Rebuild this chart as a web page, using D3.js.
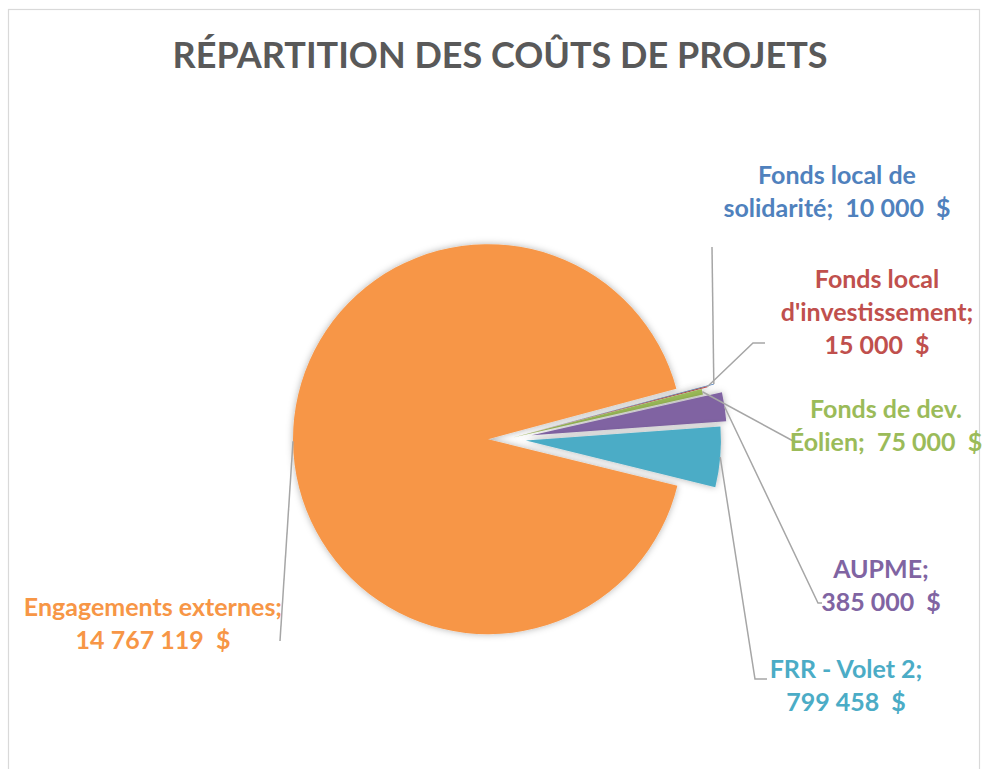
<!DOCTYPE html>
<html>
<head>
<meta charset="utf-8">
<script src="https://cdn.jsdelivr.net/npm/d3@7"></script>
<style>
  html, body { margin: 0; padding: 0; background: #fff; }
  text { font-family: Lato, "Open Sans", sans-serif; font-weight: 700; white-space: pre; }
</style>
</head>
<body>
<div id="chart"></div>
<script>
// data, in Excel order (clockwise from the first slice angle)
const categories = ["Fonds local de solidarité", "Fonds local d'investissement", "Fonds de dev. Éolien", "AUPME", "FRR - Volet 2", "Engagements externes"];
const values = [10000, 15000, 75000, 385000, 799458, 14767119];
const colors = ["#4F81BD", "#C0504D", "#9BBB59", "#8064A2", "#4BACC6", "#F79646"];

// layout
const width = 982, height = 769;
const cx = 507, cy = 439, radius = 195;
const firstSliceAngle = 75; // degrees
const explode = [19, 12, 6, 25, 19, 19];
// tokens per line when wrapping each label
const lineSplits = [[3, 2], [2, 1, 1], [3, 2], [1, 1], [4, 1], [2, 1]];
const labelCenter = [[837, 184], [877, 288], [886, 418], [881, 578], [846, 678], [153, 616]];
const leaderTail = [
  [[712, 247]],
  [[753, 343], [765, 343]],
  [[795, 442]],
  [[818, 603], [822, 603]],
  [[755, 679], [767, 679]],
  [[280, 641]]
];
const lineGap = 33;

const fmt = d3.formatLocale({ decimal: ",", thousands: " ", grouping: [3], currency: ["", " $"] }).format(",d");

const svg = d3.select("#chart").append("svg")
  .attr("width", width)
  .attr("height", height);

// drop shadow for slices
const defs = svg.append("defs");
defs.append("filter")
  .attr("id", "shadow")
  .attr("x", "-20%").attr("y", "-20%").attr("width", "140%").attr("height", "140%")
  .append("feDropShadow")
  .attr("dx", 0).attr("dy", 0)
  .attr("stdDeviation", 3.5)
  .attr("flood-color", "#000")
  .attr("flood-opacity", 0.3);

// chart frame
svg.append("rect")
  .attr("x", 8.5).attr("y", 9.5)
  .attr("width", 971).attr("height", 800)
  .attr("fill", "#fff")
  .attr("stroke", "#D9D9D9")
  .attr("stroke-width", 1.2);

// title
svg.append("text")
  .attr("x", 500).attr("y", 68)
  .attr("text-anchor", "middle")
  .attr("fill", "#595959")
  .attr("font-size", 36)
  .text("RÉPARTITION DES COÛTS DE PROJETS");

const start = firstSliceAngle * Math.PI / 180;
const pie = d3.pie().sort(null).startAngle(start).endAngle(start + 2 * Math.PI);
const arcs = pie(values);
const arc = d3.arc().innerRadius(0).outerRadius(radius);

const offset = (d, i, r) => {
  const a = (d.startAngle + d.endAngle) / 2;
  return [Math.sin(a) * r, -Math.cos(a) * r];
};

const g = svg.append("g").attr("transform", `translate(${cx},${cy})`);

g.selectAll("path.slice")
  .data(arcs)
  .join("path")
  .attr("class", "slice")
  .attr("transform", (d, i) => {
    const [dx, dy] = offset(d, i, explode[i]);
    return `translate(${dx},${dy})`;
  })
  .attr("d", arc)
  .attr("fill", (d, i) => colors[i])
  .attr("filter", "url(#shadow)");

// leader lines
const line = d3.line();
svg.selectAll("path.leader")
  .data(arcs)
  .join("path")
  .attr("class", "leader")
  .attr("d", (d, i) => {
    const [x0, y0] = offset(d, i, explode[i] + radius);
    return line([[cx + x0, cy + y0], ...leaderTail[i]]);
  })
  .attr("fill", "none")
  .attr("stroke", "#A6A6A6")
  .attr("stroke-width", 1.5);

// data labels
const labelLines = (i) => {
  const words = categories[i].split(" ");
  words[words.length - 1] += ";";
  const tokens = [...words, fmt(values[i]) + "  $"];
  const lines = [];
  let k = 0;
  lineSplits[i].forEach(n => {
    const part = tokens.slice(k, k + n);
    let s = part.join(" ");
    if (k + n === tokens.length && n > 1) s = part.slice(0, -1).join(" ") + "  " + part[n - 1];
    lines.push(s);
    k += n;
  });
  return lines;
};

arcs.forEach((d, i) => {
  const t = svg.append("text")
    .attr("text-anchor", "middle")
    .attr("fill", colors[i])
    .attr("font-size", 25);
  labelLines(i).forEach((s, j) => {
    t.append("tspan")
      .attr("x", labelCenter[i][0])
      .attr("y", labelCenter[i][1] + j * lineGap)
      .text(s);
  });
});
</script>
</body>
</html>
